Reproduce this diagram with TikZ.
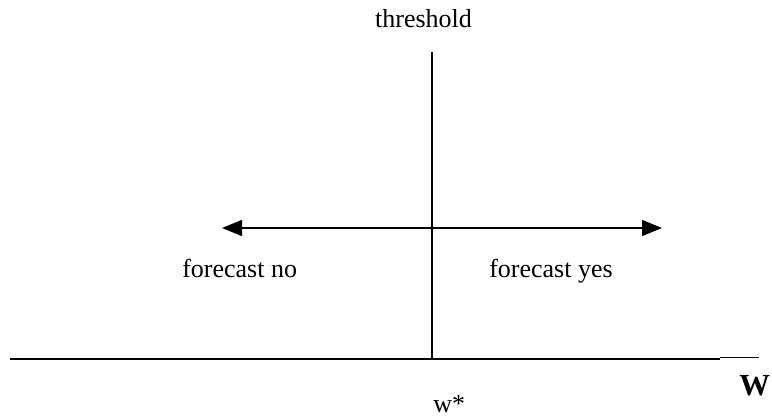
\documentclass[tikz,border=0pt]{standalone}
\usepackage{fontspec}
\setmainfont{Liberation Serif}
\usetikzlibrary{arrows.meta}
\begin{document}
\begin{tikzpicture}[x=0.75pt,y=-0.75pt,
  axis/.style={line width=1.2pt},
  thinline/.style={line width=0.6pt},
  lbl/.style={inner sep=0pt,font=\fontsize{19.5}{23}\selectfont},
  arr/.style={line width=1.1pt,-{Triangle[length=15pt,width=12pt]}}]
\useasboundingbox (0,0) rectangle (772,417);
\clip (0,0) rectangle (772,417);
\coordinate (vtop) at (432,52);
\coordinate (vbot) at (432,359);
\coordinate (hl) at (10,359);
\coordinate (hr) at (720,359);
\coordinate (tl) at (720,357.5);
\coordinate (tr) at (759,357.5);
\coordinate (am) at (432,228);
\coordinate (al) at (222,228);
\coordinate (ar) at (662,228);
\draw[axis] (vtop) -- (vbot);
\draw[axis] (hl) -- (hr);
\draw[thinline] (tl) -- (tr);
\draw[arr] (am) -- (al);
\draw[arr] (am) -- (ar);
\node[lbl,anchor=base] (thr) at (423.5,28) {threshold};
\node[lbl,anchor=base west] (fno) at (182,278) {forecast no};
\node[lbl,anchor=base west] (fyes) at (489,278) {forecast yes};
\node[lbl,anchor=base west] (ws) at (433,412) {w*};
\node[lbl,anchor=base west,font=\fontsize{23}{27}\selectfont\bfseries] (W) at (739,396) {W};
\end{tikzpicture}
\end{document}
